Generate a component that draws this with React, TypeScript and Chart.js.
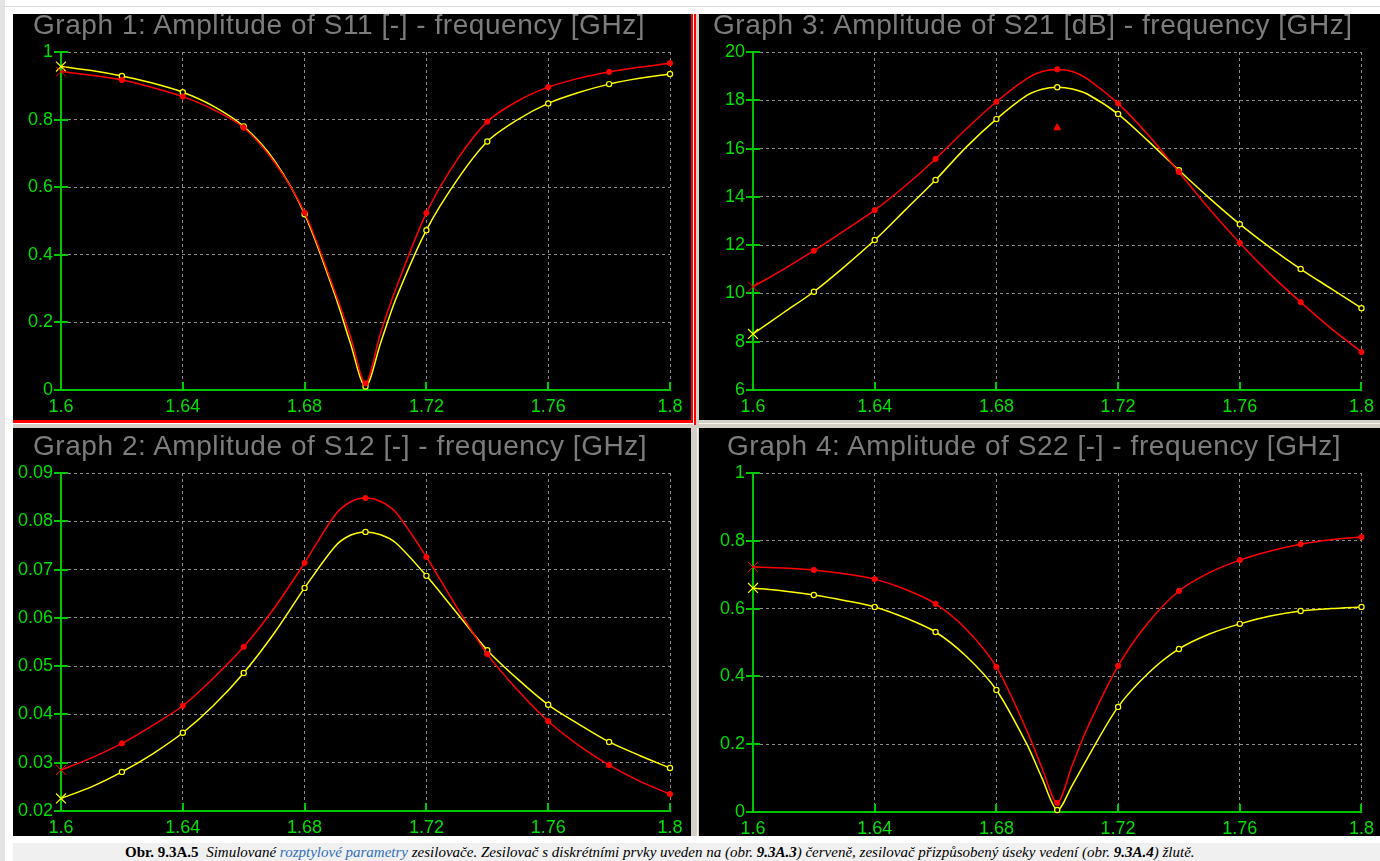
import React, { useEffect, useRef } from "react";
import { Chart, registerables } from "chart.js";

Chart.register(...registerables);

// ---------- data ----------
const FREQ = [1.6, 1.61, 1.62, 1.63, 1.64, 1.65, 1.66, 1.67, 1.68, 1.69, 1.695, 1.7, 1.705, 1.71, 1.72, 1.73, 1.74, 1.75, 1.76, 1.77, 1.78, 1.79, 1.8];
const X_TICKS = [1.6, 1.64, 1.68, 1.72, 1.76, 1.8];
const X_LABELS = ["1.6", "1.64", "1.68", "1.72", "1.76", "1.8"];

const S11_RED = [0.942, 0.931, 0.917, 0.895, 0.868, 0.83, 0.776, 0.675, 0.525, 0.29, 0.16, 0.02, 0.17, 0.3, 0.524, 0.68, 0.794, 0.855, 0.896, 0.922, 0.941, 0.955, 0.967];
const S11_YELLOW = [0.957, 0.945, 0.929, 0.908, 0.881, 0.84, 0.78, 0.68, 0.52, 0.28, 0.14, 0.01, 0.14, 0.27, 0.473, 0.62, 0.735, 0.8, 0.848, 0.88, 0.905, 0.922, 0.935];
const S11_TICKS = [0, 0.2, 0.4, 0.6, 0.8, 1];
const S11_LABELS = ["0", "0.2", "0.4", "0.6", "0.8", "1"];

const S21_RED = [10.28, 11.0, 11.77, 12.6, 13.45, 14.45, 15.57, 16.8, 17.94, 18.9, 19.19, 19.28, 19.19, 18.88, 17.87, 16.55, 15.03, 13.5, 12.09, 10.8, 9.64, 8.55, 7.57];
const S21_YELLOW = [8.32, 9.2, 10.07, 11.1, 12.21, 13.45, 14.7, 16.05, 17.22, 18.2, 18.46, 18.54, 18.47, 18.25, 17.43, 16.3, 15.1, 13.95, 12.87, 11.9, 11.01, 10.2, 9.39];
const S21_TICKS = [6, 8, 10, 12, 14, 16, 18, 20];
const S21_LABELS = ["6", "8", "10", "12", "14", "16", "18", "20"];
const S21_CURSOR_F = [1.7];
const S21_CURSOR_V = [16.86];

const S12_RED = [0.0285, 0.031, 0.034, 0.0377, 0.0418, 0.0475, 0.054, 0.062, 0.0714, 0.0813, 0.084, 0.0848, 0.0841, 0.0818, 0.0726, 0.0622, 0.0525, 0.045, 0.0386, 0.0336, 0.0295, 0.0262, 0.0235];
const S12_YELLOW = [0.0226, 0.025, 0.0281, 0.0318, 0.0362, 0.0418, 0.0486, 0.0568, 0.0662, 0.0748, 0.0771, 0.0778, 0.0772, 0.0755, 0.0687, 0.061, 0.0533, 0.0473, 0.042, 0.038, 0.0343, 0.0315, 0.0289];
const S12_TICKS = [0.02, 0.03, 0.04, 0.05, 0.06, 0.07, 0.08, 0.09];
const S12_LABELS = ["0.02", "0.03", "0.04", "0.05", "0.06", "0.07", "0.08", "0.09"];

const S22_RED = [0.723, 0.72, 0.714, 0.703, 0.687, 0.657, 0.614, 0.54, 0.428, 0.24, 0.13, 0.027, 0.14, 0.25, 0.431, 0.56, 0.652, 0.706, 0.743, 0.77, 0.79, 0.803, 0.811];
const S22_YELLOW = [0.661, 0.652, 0.64, 0.624, 0.605, 0.573, 0.531, 0.46, 0.36, 0.2, 0.1, 0.006, 0.08, 0.16, 0.31, 0.41, 0.481, 0.525, 0.555, 0.578, 0.593, 0.6, 0.605];
const S22_TICKS = [0, 0.2, 0.4, 0.6, 0.8, 1];
const S22_LABELS = ["0", "0.2", "0.4", "0.6", "0.8", "1"];

// ---------- styles ----------
const GREEN_TEXT = "#00e000";
const GREEN_AXIS = "#00c800";
const GRID = "#8a8a8a";
const RED = "#ff0000";
const YELLOW = "#ffff00";
const TITLE_GRAY = "#7c7c7c";
const SANS = '"Liberation Sans", Arial, sans-serif';

const isMark = (f: number) => Math.abs(f * 50 - Math.round(f * 50)) < 1e-6;
const RADII = FREQ.map((f, i) => (i === 0 ? 7 : isMark(f) ? 2.6 : 0));
const STYLES = FREQ.map((f, i) => (i === 0 ? "crossRot" : "circle"));

const greenTicks = {
  id: "greenTicks",
  beforeDatasetsDraw(chart: any) {
    const { ctx, chartArea, scales } = chart;
    const x = scales.x;
    const y = scales.y;
    ctx.save();
    ctx.strokeStyle = GREEN_AXIS;
    ctx.lineWidth = 2;
    ctx.beginPath();
    for (const t of x.ticks) {
      const px = Math.round(x.getPixelForValue(t.value));
      ctx.moveTo(px, chartArea.bottom);
      ctx.lineTo(px, chartArea.bottom - 8);
    }
    for (const t of y.ticks) {
      const py = Math.round(y.getPixelForValue(t.value));
      ctx.moveTo(chartArea.left - 7, py);
      ctx.lineTo(chartArea.left + 7, py);
    }
    ctx.stroke();
    ctx.restore();
  },
};

type PanelProps = {
  left: number;
  top: number;
  width: number;
  height: number;
  plotLeft: number;
  plotTop: number;
  plotRight: number;
  plotBottom: number;
  yTicks: number[];
  yLabels: string[];
  red: number[];
  yellow: number[];
  cursorF?: number[];
  cursorV?: number[];
};

function Panel(p: PanelProps) {
  const ref = useRef<HTMLCanvasElement | null>(null);
  useEffect(() => {
    if (!ref.current) return;
    const datasets: any[] = [
      {
        data: FREQ.map((f, i) => ({ x: f, y: p.red[i] })),
        borderColor: RED,
        borderWidth: 1.5,
        pointRadius: RADII,
        pointStyle: STYLES,
        pointBackgroundColor: RED,
        pointBorderColor: RED,
        pointBorderWidth: 1,
        tension: 0.3,
        fill: false,
        clip: false,
      },
      {
        data: FREQ.map((f, i) => ({ x: f, y: p.yellow[i] })),
        borderColor: YELLOW,
        borderWidth: 1.5,
        pointRadius: RADII,
        pointStyle: STYLES,
        pointBackgroundColor: FREQ.map((f, i) => (i === 0 ? YELLOW : "#000000")),
        pointBorderColor: YELLOW,
        pointBorderWidth: 1.2,
        tension: 0.3,
        fill: false,
        clip: false,
      },
    ];
    if (p.cursorF && p.cursorV) {
      datasets.unshift({
        data: p.cursorF.map((f, i) => ({ x: f, y: p.cursorV![i] })),
        showLine: false,
        pointStyle: "triangle",
        pointRadius: 4,
        pointBackgroundColor: RED,
        pointBorderColor: RED,
        clip: false,
      });
    }
    const yMin = p.yTicks[0];
    const yMax = p.yTicks[p.yTicks.length - 1];
    const chart = new Chart(ref.current, {
      type: "line",
      data: { datasets },
      plugins: [greenTicks],
      options: {
        animation: false,
        responsive: false,
        maintainAspectRatio: false,
        devicePixelRatio: 1,
        events: [],
        layout: { padding: { left: 0, top: p.plotTop, right: p.width - p.plotRight, bottom: 0 } },
        plugins: { legend: { display: false }, tooltip: { enabled: false }, title: { display: false } },
        scales: {
          x: {
            type: "linear",
            min: 1.6,
            max: 1.8,
            afterBuildTicks: (a: any) => {
              a.ticks = X_TICKS.map((v) => ({ value: v }));
            },
            afterFit: (a: any) => {
              a.height = p.height - p.plotBottom;
            },
            grid: { color: GRID, lineWidth: 1, drawTicks: false },
            border: { display: true, color: GREEN_AXIS, width: 2, dash: [3, 3] },
            ticks: {
              color: GREEN_TEXT,
              font: { family: SANS, size: 18 },
              padding: 6,
              maxRotation: 0,
              autoSkip: false,
              callback: (_v: any, i: number) => X_LABELS[i],
            },
          },
          y: {
            type: "linear",
            min: yMin,
            max: yMax,
            afterBuildTicks: (a: any) => {
              a.ticks = p.yTicks.map((v) => ({ value: v }));
            },
            afterFit: (a: any) => {
              a.width = p.plotLeft;
            },
            grid: { color: GRID, lineWidth: 1, drawTicks: false },
            border: { display: true, color: GREEN_AXIS, width: 2, dash: [3, 3] },
            ticks: {
              color: GREEN_TEXT,
              font: { family: SANS, size: 18 },
              padding: 8,
              autoSkip: false,
              callback: (_v: any, i: number) => p.yLabels[i],
            },
          },
        },
      } as any,
    });
    return () => chart.destroy();
  }, []);
  return (
    <div style={{ position: "absolute", left: p.left, top: p.top, width: p.width, height: p.height, background: "#000" }}>
      <canvas ref={ref} width={p.width} height={p.height} style={{ display: "block", width: p.width, height: p.height }} />
    </div>
  );
}

function Title({ text, left, top }: { text: string; left: number; top: number }) {
  return (
    <div
      style={{
        position: "absolute",
        left,
        top,
        fontFamily: SANS,
        fontSize: 28,
        lineHeight: "28px",
        letterSpacing: "0.55px",
        color: TITLE_GRAY,
        whiteSpace: "nowrap",
      }}
    >
      {text}
    </div>
  );
}

export default function App() {
  return (
    <div style={{ position: "fixed", left: 0, top: 0, width: 1380, height: 861, background: "#ffffff", overflow: "hidden" }}>
      <div style={{ position: "absolute", left: 0, top: 0, width: 5, height: 861, background: "#e4e4e4" }} />
      <div style={{ position: "absolute", left: 5, top: 6, width: 1375, height: 1, background: "#dadada" }} />
      <div style={{ position: "absolute", left: 13, top: 14, width: 1367, height: 822, background: "#d4d0c8" }} />
      <div style={{ position: "absolute", left: 699, top: 423, width: 681, height: 1, background: "#f4f4f0" }} />
      <div style={{ position: "absolute", left: 697, top: 428, width: 1, height: 408, background: "#f4f4f0" }} />

      <Panel left={13} top={14} width={678} height={406} plotLeft={48} plotTop={38} plotRight={657} plotBottom={376}
        yTicks={S11_TICKS} yLabels={S11_LABELS} red={S11_RED} yellow={S11_YELLOW} />
      <Panel left={699} top={14} width={681} height={406} plotLeft={54} plotTop={38} plotRight={664} plotBottom={376}
        yTicks={S21_TICKS} yLabels={S21_LABELS} red={S21_RED} yellow={S21_YELLOW} cursorF={S21_CURSOR_F} cursorV={S21_CURSOR_V} />
      <Panel left={13} top={428} width={678} height={408} plotLeft={48} plotTop={45} plotRight={657} plotBottom={383}
        yTicks={S12_TICKS} yLabels={S12_LABELS} red={S12_RED} yellow={S12_YELLOW} />
      <Panel left={699} top={428} width={681} height={408} plotLeft={54} plotTop={45} plotRight={664} plotBottom={384}
        yTicks={S22_TICKS} yLabels={S22_LABELS} red={S22_RED} yellow={S22_YELLOW} />

      {/* selection frame of graph 1 */}
      <div style={{ position: "absolute", left: 691, top: 14, width: 2, height: 409, background: RED }} />
      <div style={{ position: "absolute", left: 693, top: 14, width: 1, height: 411, background: "#ffffff" }} />
      <div style={{ position: "absolute", left: 694, top: 14, width: 2, height: 411, background: RED }} />
      <div style={{ position: "absolute", left: 13, top: 420, width: 680, height: 3, background: RED }} />
      <div style={{ position: "absolute", left: 13, top: 423, width: 681, height: 1, background: "#ffffff" }} />

      <Title text="Graph 1: Amplitude of S11 [-] - frequency [GHz]" left={33} top={11} />
      <Title text="Graph 3: Amplitude of S21 [dB] - frequency [GHz]" left={713} top={11} />
      <Title text="Graph 2: Amplitude of S12 [-] - frequency [GHz]" left={33} top={432} />
      <Title text="Graph 4: Amplitude of S22 [-] - frequency [GHz]" left={727} top={432} />

      <div style={{ position: "absolute", left: 13, top: 843, width: 1367, height: 18, background: "#f0f0f0" }} />
      <div
        style={{
          position: "absolute",
          left: 125,
          top: 844,
          whiteSpace: "nowrap",
          fontFamily: '"Liberation Serif", "Times New Roman", serif',
          fontSize: 15,
          lineHeight: "17px",
          color: "#000",
        }}
      >
        <b>Obr. 9.3A.5</b>&nbsp;&nbsp;
        <i>
          Simulované <span style={{ color: "#2f6fb7" }}>rozptylové parametry</span> zesilovače. Zesilovač s diskrétními prvky uveden na (obr.{" "}
          <b>9.3A.3</b>) červeně, zesilovač přizpůsobený úseky vedení (obr. <b>9.3A.4</b>) žlutě.
        </i>
      </div>
    </div>
  );
}
